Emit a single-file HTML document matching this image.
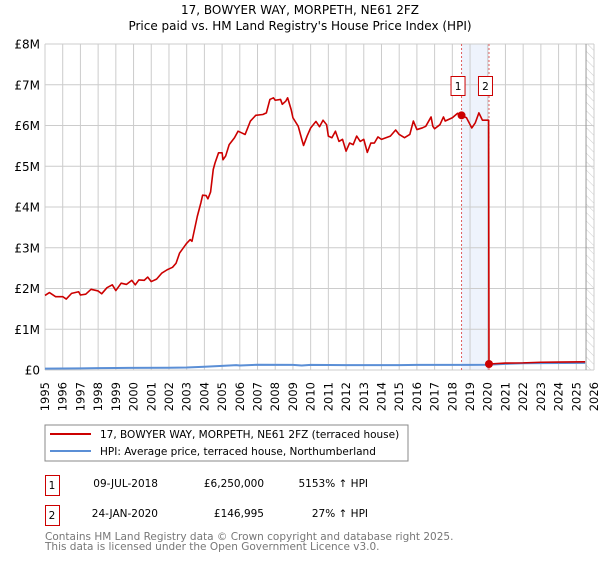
<!DOCTYPE html>
<html><head><meta charset="utf-8"><style>
body{margin:0;background:#fff;font-family:"Liberation Sans","DejaVu Sans",sans-serif;}
svg text{font-family:"DejaVu Sans","Liberation Sans",sans-serif;}
</style></head><body>
<svg id="c" width="600" height="560" viewBox="0 0 600 560">
<defs><pattern id="hatch" width="6" height="6" patternUnits="userSpaceOnUse" patternTransform="rotate(-45)"><line x1="0" y1="0" x2="0" y2="6" stroke="#ccc" stroke-width="1"/></pattern></defs>
<text x="300" y="14" text-anchor="middle" font-size="12">17, BOWYER WAY, MORPETH, NE61 2FZ</text>
<text x="300" y="30" text-anchor="middle" font-size="12">Price paid vs. HM Land Registry's House Price Index (HPI)</text>
<g id="grid"></g><g id="marks"></g>
<rect x="45" y="425" width="363" height="36" fill="#fff" stroke="#888"/>
<line x1="50" y1="434" x2="91" y2="434" stroke="#cc0000" stroke-width="2"/>
<text x="100" y="438" font-size="10.5">17, BOWYER WAY, MORPETH, NE61 2FZ (terraced house)</text>
<line x1="50" y1="451" x2="91" y2="451" stroke="#5b8fd6" stroke-width="2"/>
<text x="100" y="455" font-size="10.5">HPI: Average price, terraced house, Northumberland</text>
<g font-size="10.5">
<rect x="45.5" y="475.5" width="14" height="20" fill="none" stroke="#cc0000"/><text x="52" y="489" text-anchor="middle">1</text>
<text x="158" y="487" text-anchor="end">09-JUL-2018</text><text x="264" y="487" text-anchor="end">£6,250,000</text><text x="368" y="487" text-anchor="end">5153% ↑ HPI</text>
<rect x="45.5" y="505.5" width="14" height="20" fill="none" stroke="#cc0000"/><text x="52" y="519" text-anchor="middle">2</text>
<text x="158" y="517" text-anchor="end">24-JAN-2020</text><text x="264" y="517" text-anchor="end">£146,995</text><text x="368" y="517" text-anchor="end">27% ↑ HPI</text>
</g>
<text x="45" y="540" font-size="10.5" fill="#777">Contains HM Land Registry data © Crown copyright and database right 2025.</text>
<text x="45" y="550" font-size="10.5" fill="#777">This data is licensed under the Open Government Licence v3.0.</text>
</svg>
<script>
const redYears=[1995.0,1995.25,1995.6,1996.0,1996.2,1996.5,1996.9,1997.0,1997.3,1997.6,1998.0,1998.2,1998.5,1998.8,1999.0,1999.3,1999.6,1999.9,2000.1,2000.3,2000.6,2000.8,2001.0,2001.3,2001.6,2001.9,2002.0,2002.2,2002.4,2002.6,2002.9,2003.0,2003.2,2003.3,2003.6,2003.8,2003.9,2004.1,2004.2,2004.35,2004.5,2004.6,2004.8,2005.0,2005.05,2005.2,2005.4,2005.7,2005.9,2006.1,2006.3,2006.6,2006.9,2007.3,2007.5,2007.7,2007.9,2008.0,2008.3,2008.4,2008.6,2008.7,2008.9,2009.0,2009.3,2009.5,2009.6,2009.8,2010.0,2010.3,2010.5,2010.7,2010.9,2011.0,2011.2,2011.4,2011.6,2011.8,2012.0,2012.2,2012.4,2012.6,2012.8,2013.0,2013.2,2013.4,2013.6,2013.8,2014.0,2014.5,2014.8,2015.0,2015.3,2015.6,2015.8,2016.0,2016.3,2016.5,2016.8,2016.9,2017.0,2017.3,2017.5,2017.6,2017.8,2018.0,2018.3,2018.52,2018.8,2019.1,2019.3,2019.5,2019.7,2020.05,2020.07,2021.0,2022.0,2023.0,2024.0,2025.5];
const redValues=[1.83,1.9,1.8,1.8,1.74,1.88,1.92,1.84,1.86,1.98,1.94,1.87,2.02,2.09,1.95,2.13,2.1,2.2,2.09,2.21,2.2,2.28,2.17,2.23,2.38,2.46,2.48,2.52,2.62,2.87,3.05,3.11,3.2,3.16,3.77,4.1,4.29,4.28,4.2,4.37,4.92,5.08,5.33,5.33,5.16,5.25,5.53,5.7,5.86,5.82,5.78,6.11,6.25,6.27,6.31,6.64,6.68,6.62,6.64,6.52,6.6,6.68,6.39,6.19,5.98,5.66,5.51,5.74,5.94,6.1,5.97,6.13,6.02,5.74,5.7,5.86,5.61,5.66,5.37,5.57,5.53,5.74,5.61,5.66,5.34,5.57,5.57,5.72,5.66,5.74,5.89,5.78,5.7,5.78,6.11,5.9,5.94,5.98,6.21,5.98,5.92,6.02,6.21,6.11,6.15,6.19,6.3,6.25,6.19,5.94,6.07,6.31,6.13,6.13,0.147,0.17,0.175,0.19,0.195,0.2];
const hpiYears=[1995,1997,1998,1999,2002,2003,2004,2005,2005.8,2006,2007,2009,2009.5,2010,2012,2015,2016,2019,2020,2021,2022,2023,2025.5];
const hpiValues=[0.035,0.04,0.045,0.05,0.055,0.06,0.08,0.1,0.12,0.11,0.13,0.125,0.11,0.125,0.12,0.12,0.125,0.125,0.13,0.15,0.165,0.17,0.175];
const saleYears=[2018.52,2020.07];
const saleValues=[6.25,0.147];
const saleLabels=["1","2"];
const yTicks=[0,1,2,3,4,5,6,7,8];
const yTickLabels=["£0","£1M","£2M","£3M","£4M","£5M","£6M","£7M","£8M"];
const xTicks=[];for(let y=1995;y<=2026;y++)xTicks.push(y);

const NS="http://www.w3.org/2000/svg";
const X0=45,X1=594,Y0=370,Y1=44;
const xs=v=>X0+(v-1995)/(2026-1995)*(X1-X0);
const ys=v=>Y0-v/8*(Y0-Y1);
function mk(tag,attrs,parent){const e=document.createElementNS(NS,tag);for(const k in attrs)e.setAttribute(k,attrs[k]);parent.appendChild(e);return e;}
const g=document.getElementById('grid'),m=document.getElementById('marks');
const bg=mk('rect',{x:X0,y:Y1,width:X1-X0,height:Y0-Y1,fill:'#fff'},g);


const sh=mk('rect',{x:xs(saleYears[0]),y:Y1,width:xs(saleYears[1])-xs(saleYears[0]),height:Y0-Y1,fill:'#eef3fc'},g);


const ht=mk('rect',{x:xs(2025.55),y:Y1,width:X1-xs(2025.55),height:Y0-Y1,fill:'url(#hatch)'},g);


xTicks.forEach(t=>{
 const l=mk('line',{x1:xs(t),x2:xs(t),y1:Y1,y2:Y0,stroke:'#ccc'},g);
 
 
 const tx=mk('text',{x:0,y:0,'font-size':11.5,'text-anchor':'end',transform:`translate(${xs(t)+4},${Y0+12}) rotate(-90)`},g);
 tx.textContent=t;
 
 
});
yTicks.forEach((t,i)=>{
 const l=mk('line',{x1:X0,x2:X1,y1:ys(t),y2:ys(t),stroke:'#ccc'},g);
 
 
 const tx=mk('text',{x:40,y:ys(t)+4.5,'font-size':12,'text-anchor':'end'},g);
 tx.textContent=yTickLabels[i];
 
 
});
const bl=mk('line',{x1:xs(2025.55),x2:xs(2025.55),y1:Y1,y2:Y0,stroke:'#999'},g);


saleYears.forEach((s,i)=>{
 const l=mk('line',{x1:xs(s),x2:xs(s),y1:Y1,y2:Y0,stroke:'#e06060','stroke-dasharray':'2,2'},m);
 
 
 const r=mk('rect',{x:xs(s)-10.5,y:76.5,width:14,height:19,fill:'#fff',stroke:'#cc0000'},m);
 
 
 const t=mk('text',{x:xs(s)-3.5,y:90,'font-size':10.5,'text-anchor':'middle'},m);
 t.textContent=saleLabels[i];
 
 
});
const hp=mk('polyline',{points:hpiYears.map((y,i)=>xs(y)+','+ys(hpiValues[i])).join(' '),fill:'none',stroke:'#5b8fd6','stroke-width':2},m);


const rp=mk('polyline',{points:redYears.map((y,i)=>xs(y)+','+ys(redValues[i])).join(' '),fill:'none',stroke:'#cc0000','stroke-width':1.6,'stroke-linejoin':'round'},m);


saleYears.forEach((s,i)=>{
 const c=mk('circle',{cx:xs(s),cy:ys(saleValues[i]),r:4,fill:'#cc0000'},m);
 
 
});
</script>
</body></html>
